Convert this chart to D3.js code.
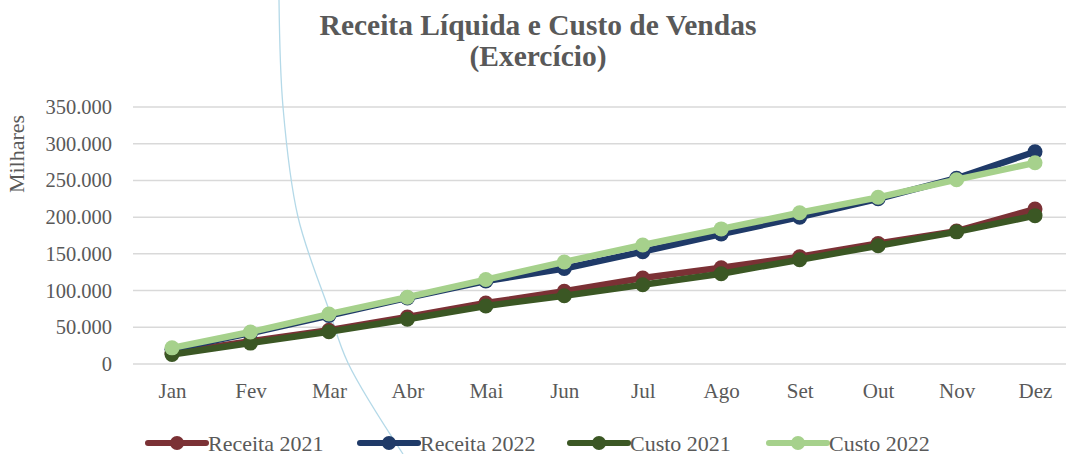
<!DOCTYPE html>
<html>
<head>
<meta charset="utf-8">
<script src="https://cdn.jsdelivr.net/npm/d3@7"></script>
<style>
  body { margin: 0; background: #fff; }
  text { font-family: "Liberation Serif", "DejaVu Serif", serif; fill: #595959; }
</style>
</head>
<body>
<script>
"use strict";
const months = ["Jan", "Fev", "Mar", "Abr", "Mai", "Jun", "Jul", "Ago", "Set", "Out", "Nov", "Dez"];
const receita2021 = [15000, 31000, 46000, 64000, 83000, 99000, 117000, 131000, 146000, 164000, 181000, 211000];
const receita2022 = [20000, 42000, 66000, 90000, 113000, 130000, 153000, 177000, 200000, 225000, 253000, 289000];
const custo2021 = [13000, 28500, 44000, 61000, 79000, 93000, 108000, 123000, 142000, 161000, 180000, 202000];
const custo2022 = [22000, 43500, 68000, 91000, 115000, 139000, 162000, 184000, 206000, 227000, 251000, 274000];
const yTicks = [0, 50000, 100000, 150000, 200000, 250000, 300000, 350000];

const series = [
    { name: "Receita 2021", values: receita2021, color: "#7B3135" },
    { name: "Receita 2022", values: receita2022, color: "#1F3A68" },
    { name: "Custo 2021", values: custo2021, color: "#3B5724" },
    { name: "Custo 2022", values: custo2022, color: "#A6D18C" }
];

const width = 1066;
const height = 454;

const svg = d3.select("body")
    .append("svg")
    .attr("width", width)
    .attr("height", height);

// scales
const xScale = d3.scalePoint()
    .domain(months)
    .range([172, 1035]);

const yScale = d3.scaleLinear()
    .domain([0, 350000])
    .range([364, 107]);

const fmt = d3.formatLocale({ decimal: ",", thousands: ".", grouping: [3], currency: ["R$", ""] }).format(",.0f");

// gridlines
svg.append("g")
    .selectAll("line")
    .data(yTicks)
    .enter().append("line")
    .attr("x1", 133)
    .attr("x2", width)
    .attr("y1", d => yScale(d))
    .attr("y2", d => yScale(d))
    .attr("stroke", "#D9D9D9")
    .attr("stroke-width", 1.5);

// y axis
const yAxis = svg.append("g")
    .attr("transform", "translate(112,0)")
    .call(d3.axisLeft(yScale).tickValues(yTicks).tickFormat(fmt).tickSize(0).tickPadding(0));
yAxis.select(".domain").remove();
yAxis.selectAll("text")
    .style("font-size", "20.5px")
    .style("font-family", "Liberation Serif, serif")
    .attr("fill", "#595959");

// x axis
const xAxis = svg.append("g")
    .attr("transform", "translate(0,383)")
    .call(d3.axisBottom(xScale).tickSize(0).tickPadding(0));
xAxis.select(".domain").remove();
xAxis.selectAll("text")
    .style("font-size", "21px")
    .style("font-family", "Liberation Serif, serif")
    .attr("fill", "#595959");

// decorative arc crossing the picture
const arcPts = [[279, 0], [283, 107], [298, 217], [329, 310], [348, 363], [403, 454]];
svg.append("path")
    .attr("d", d3.line().curve(d3.curveCatmullRom)(arcPts))
    .attr("fill", "none")
    .attr("stroke", "#B4D9E8")
    .attr("stroke-width", 1.3);

// lines + markers
const line = d3.line()
    .x((d, i) => xScale(months[i]))
    .y(d => yScale(d));

series.forEach(s => {
    svg.append("path")
        .datum(s.values)
        .attr("d", line)
        .attr("fill", "none")
        .attr("stroke", s.color)
        .attr("stroke-width", 6.5)
        .attr("stroke-linejoin", "round");
    svg.selectAll(null)
        .data(s.values)
        .enter().append("circle")
        .attr("cx", (d, i) => xScale(months[i]))
        .attr("cy", d => yScale(d))
        .attr("r", 7.5)
        .attr("fill", s.color);
});

// title
svg.append("text")
    .attr("x", 538).attr("y", 35)
    .attr("text-anchor", "middle")
    .style("font-size", "29.5px").style("font-weight", "bold")
    .text("Receita Líquida e Custo de Vendas");
svg.append("text")
    .attr("x", 538).attr("y", 66)
    .attr("text-anchor", "middle")
    .style("font-size", "29.5px").style("font-weight", "bold")
    .text("(Exercício)");

// y axis title
svg.append("text")
    .attr("transform", "translate(24,154) rotate(-90)")
    .attr("text-anchor", "middle")
    .style("font-size", "22px")
    .text("Milhares");

// legend
const legendX = [148, 360, 570, 769];
const legend = svg.append("g");
series.forEach((s, i) => {
    const g = legend.append("g").attr("transform", `translate(${legendX[i]},443)`);
    g.append("line")
        .attr("x1", 0).attr("x2", 58)
        .attr("stroke", s.color).attr("stroke-width", 6)
        .attr("stroke-linecap", "round");
    g.append("circle").attr("cx", 29).attr("r", 7).attr("fill", s.color);
    g.append("text")
        .attr("x", 60).attr("y", 7.5)
        .style("font-size", "22px")
        .text(s.name);
});
</script>
</body>
</html>
